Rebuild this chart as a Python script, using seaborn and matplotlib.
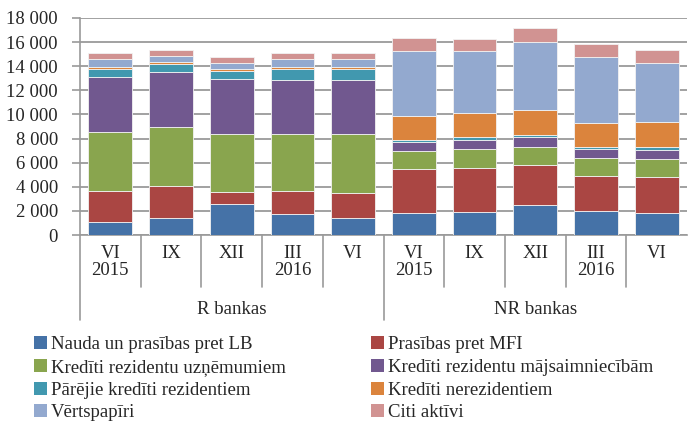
import numpy as np
import pandas as pd
import matplotlib
matplotlib.use("Agg")
import matplotlib.pyplot as plt
import matplotlib.transforms as mtransforms
from matplotlib.patches import Patch
import seaborn as sns

# periods (two levels of x labels) and groups
periods = ["VI\n2015", "IX", "XII", "III\n2016", "VI"] * 2
groups = ["R bankas", "NR bankas"]

series = ["Nauda un prasības pret LB", "Prasības pret MFI",
          "Kredīti rezidentu uzņēmumiem", "Kredīti rezidentu mājsaimniecībām",
          "Pārējie kredīti rezidentiem", "Kredīti nerezidentiem",
          "Vērtspapīri", "Citi aktīvi"]

nauda = [1090, 1450, 2610, 1750, 1450, 1810, 1890, 2450, 2000, 1810]
mfi = [2570, 2630, 970, 1910, 2040, 3650, 3680, 3370, 2900, 3010]
uzn = [4870, 4870, 4790, 4680, 4850, 1490, 1550, 1490, 1470, 1470]
majs = [4590, 4590, 4560, 4480, 4480, 780, 800, 780, 750, 770]
parejie = [640, 630, 640, 940, 940, 140, 170, 190, 190, 200]
nerez = [190, 200, 190, 190, 190, 2010, 2040, 2100, 1970, 2080]
vertsp = [640, 490, 520, 610, 640, 5400, 5100, 5650, 5450, 4940]
citi = [470, 450, 500, 500, 520, 1080, 1040, 1110, 1100, 1080]

values = [nauda, mfi, uzn, majs, parejie, nerez, vertsp, citi]
colors = ["#4572A7", "#AA4643", "#89A54E", "#71588F",
          "#4198AF", "#DB843D", "#93A9CF", "#D19392"]

sns.set_theme(style="white")
plt.rcParams["font.family"] = "Liberation Serif"
plt.rcParams["font.size"] = 13

keys = ["c%d" % i for i in range(10)]
fig = plt.figure(figsize=(6.88, 4.23), dpi=100)
ax = fig.add_axes([80 / 688, 1 - 235 / 423, 607 / 688, 217 / 423])

bottom = np.zeros(10)
for name, vals, col in zip(series, values, colors):
    df = pd.DataFrame({"k": keys, "v": vals})
    sns.barplot(data=df, x="k", y="v", order=keys, color=col, width=0.72,
                bottom=bottom, errorbar=None, saturation=1,
                edgecolor="#f2f2f2", linewidth=0.6, ax=ax, zorder=3)
    bottom = bottom + np.array(vals)

ax.set_ylim(0, 18000)
ax.set_xlim(-0.5, 9.5)
ax.set_yticks(range(0, 18001, 2000))
ax.set_yticklabels([f"{v:,}".replace(",", " ") for v in range(0, 18001, 2000)],
                   fontsize=13.5)
ax.yaxis.grid(True, color="#9a9a9a", linewidth=1.3, zorder=0)
ax.set_axisbelow(True)
ax.set_xlabel("")
ax.set_ylabel("")
ax.set_xticks([])
for s in ["top", "right"]:
    ax.spines[s].set_visible(False)
ax.spines["left"].set_color("#9a9a9a")
ax.spines["bottom"].set_color("#9a9a9a")
ax.spines["left"].set_linewidth(1.2)
ax.spines["bottom"].set_linewidth(1.2)
ax.tick_params(axis="y", length=6, color="#9a9a9a", width=1.2, pad=10, left=True)

# multi-level category axis
tr = mtransforms.blended_transform_factory(ax.transData, ax.transAxes)
for i, lab in enumerate(periods):
    ax.text(i, -0.045, lab, transform=tr, ha="center", va="top",
            fontsize=13.5, linespacing=1.05)
for b in range(10):
    x = b - 0.5
    low = -0.39 if b in (0, 5) else -0.24
    ax.plot([x, x], [0, low], transform=tr, color="#9a9a9a", lw=1.2,
            clip_on=False)
for g, name in enumerate(groups):
    ax.text(2 + 5 * g, -0.345, name, transform=tr, ha="center", va="center",
            fontsize=13.5)

# legend filled row by row like the reference
order = [0, 2, 4, 6, 1, 3, 5, 7]
handles = [Patch(facecolor=colors[i], edgecolor="none") for i in order]
labels = [series[i] for i in order]
leg = fig.legend(handles, labels, ncol=2, loc="upper left",
                 bbox_to_anchor=(34 / 688, 1 - 336 / 423), frameon=False,
                 handlelength=0.7, handleheight=0.7, handletextpad=0.2,
                 columnspacing=4.55, labelspacing=0.3, fontsize=13.5,
                 borderpad=0, borderaxespad=0)

fig.savefig("out.png", dpi=100)
